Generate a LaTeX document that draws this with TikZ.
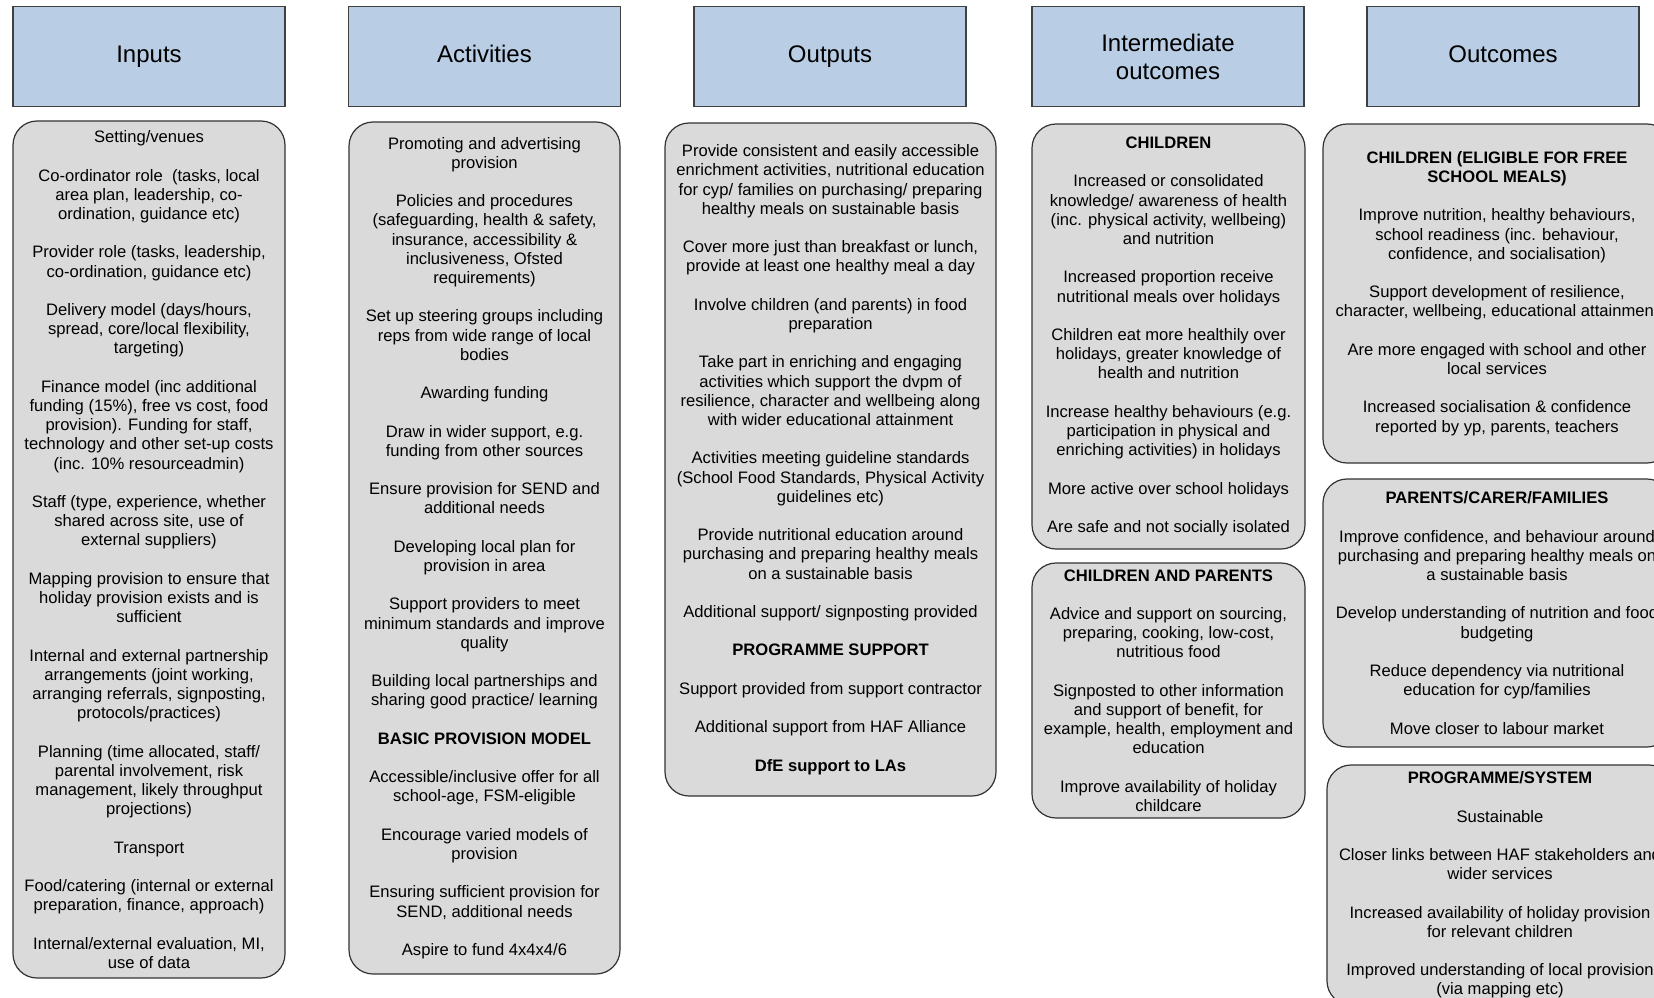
\documentclass[tikz,border=0pt]{standalone}
\usepackage{fontspec}
\setmainfont{Liberation Sans}
\usepackage{xcolor}
\definecolor{headblue}{RGB}{185,205,228}
\definecolor{boxgray}{RGB}{218,218,218}
\newcommand{\pgap}{\\[19.2pt]}

\begin{document}
\begin{tikzpicture}[x=1pt,y=-1pt]
\tikzstyle{head}=[draw=black!75,line width=1.2pt,fill=headblue,minimum width=272pt,minimum height=100pt,align=center,font=\fontsize{24}{28}\selectfont]
\tikzstyle{body}=[draw=black!80,line width=1.2pt,fill=boxgray,rounded corners=24pt,inner xsep=0pt,inner ysep=0pt,align=center,font=\fontsize{16.6}{19.2}\selectfont]
\clip (0,0) rectangle (1654,998);

\node (1) at (149,56.5) [head]{\strut Inputs};
\node (2) at (484.5,56.5) [head]{\strut Activities};
\node (3) at (830,56.5) [head]{\strut Outputs};
\node (4) at (1168,56.5) [head]{Intermediate\\outcomes};
\node (5) at (1503,56.5) [head]{\strut Outcomes};

\node (6) at (149,549.5) [body,minimum width=272pt,minimum height=857pt]{Setting/venues\pgap
Co-ordinator role\ \ (tasks, local\\area plan, leadership, co-\\ordination, guidance etc)\pgap
Provider role (tasks, leadership,\\co-ordination, guidance etc)\pgap
Delivery model (days/hours,\\spread, core/local flexibility,\\targeting)\pgap
Finance model (inc additional\\funding (15\%), free vs cost, food\\provision). Funding for staff,\\technology and other set-up costs\\(inc. 10\% resourceadmin)\pgap
Staff (type, experience, whether\\shared across site, use of\\external suppliers)\pgap
Mapping provision to ensure that\\holiday provision exists and is\\sufficient\pgap
Internal and external partnership\\arrangements (joint working,\\arranging referrals, signposting,\\protocols/practices)\pgap
Planning (time allocated, staff/\\parental involvement, risk\\management, likely throughput\\projections)\pgap
Transport\pgap
Food/catering (internal or external\\preparation, finance, approach)\pgap
Internal/external evaluation, MI,\\use of data};

\node (7) at (484.5,548) [body,minimum width=271pt,minimum height=852pt]{Promoting and advertising\\provision\pgap
Policies and procedures\\(safeguarding, health \& safety,\\insurance, accessibility \&\\inclusiveness, Ofsted\\requirements)\pgap
Set up steering groups including\\reps from wide range of local\\bodies\pgap
Awarding funding\pgap
Draw in wider support, e.g.\\funding from other sources\pgap
Ensure provision for SEND and\\additional needs\pgap
Developing local plan for\\provision in area\pgap
Support providers to meet\\minimum standards and improve\\quality\pgap
Building local partnerships and\\sharing good practice/ learning\pgap
\textbf{BASIC PROVISION MODEL}\pgap
Accessible/inclusive offer for all\\school-age, FSM-eligible\pgap
Encourage varied models of\\provision\pgap
Ensuring sufficient provision for\\SEND, additional needs\pgap
Aspire to fund 4x4x4/6};

\node (8) at (830.5,459.5) [body,minimum width=331pt,minimum height=673pt]{Provide consistent and easily accessible\\enrichment activities, nutritional education\\for cyp/ families on purchasing/ preparing\\healthy meals on sustainable basis\pgap
Cover more just than breakfast or lunch,\\provide at least one healthy meal a day\pgap
Involve children (and parents) in food\\preparation\pgap
Take part in enriching and engaging\\activities which support the dvpm of\\resilience, character and wellbeing along\\with wider educational attainment\pgap
Activities meeting guideline standards\\(School Food Standards, Physical Activity\\guidelines etc)\pgap
Provide nutritional education around\\purchasing and preparing healthy meals\\on a sustainable basis\pgap
Additional support/ signposting provided\pgap
\textbf{PROGRAMME SUPPORT}\pgap
Support provided from support contractor\pgap
Additional support from HAF Alliance\pgap
\textbf{DfE support to LAs}};

\node (9) at (1168.5,336.5) [body,minimum width=273pt,minimum height=425pt]{\textbf{CHILDREN}\pgap
Increased or consolidated\\knowledge/ awareness of health\\(inc. physical activity, wellbeing)\\and nutrition\pgap
Increased proportion receive\\nutritional meals over holidays\pgap
Children eat more healthily over\\holidays, greater knowledge of\\health and nutrition\pgap
Increase healthy behaviours (e.g.\\participation in physical and\\enriching activities) in holidays\pgap
More active over school holidays\pgap
Are safe and not socially isolated};

\node (10) at (1168.5,690.5) [body,minimum width=273pt,minimum height=255pt]{\textbf{CHILDREN AND PARENTS}\pgap
Advice and support on sourcing,\\preparing, cooking, low-cost,\\nutritious food\pgap
Signposted to other information\\and support of benefit, for\\example, health, employment and\\education\pgap
Improve availability of holiday\\childcare};

\node (11) at (1497,293.5) [body,minimum width=348pt,minimum height=339pt]{\textbf{CHILDREN (ELIGIBLE FOR FREE}\\\textbf{SCHOOL MEALS)}\pgap
Improve nutrition, healthy behaviours,\\school readiness (inc. behaviour,\\confidence, and socialisation)\pgap
Support development of resilience,\\character, wellbeing, educational attainment\pgap
Are more engaged with school and other\\local services\pgap
Increased socialisation \& confidence\\reported by yp, parents, teachers};

\node (12) at (1497,613) [body,minimum width=348pt,minimum height=268pt]{\textbf{PARENTS/CARER/FAMILIES}\pgap
Improve confidence, and behaviour around\\purchasing and preparing healthy meals on\\a sustainable basis\pgap
Develop understanding of nutrition and food\\budgeting\pgap
Reduce dependency via nutritional\\education for cyp/families\pgap
Move closer to labour market};

\node (13) at (1500,885) [body,minimum width=346pt,minimum height=240pt]{\textbf{PROGRAMME/SYSTEM}\pgap
Sustainable\pgap
Closer links between HAF stakeholders and\\wider services\pgap
Increased availability of holiday provision\\for relevant children\pgap
Improved understanding of local provision\\(via mapping etc)};
\end{tikzpicture}
\end{document}
